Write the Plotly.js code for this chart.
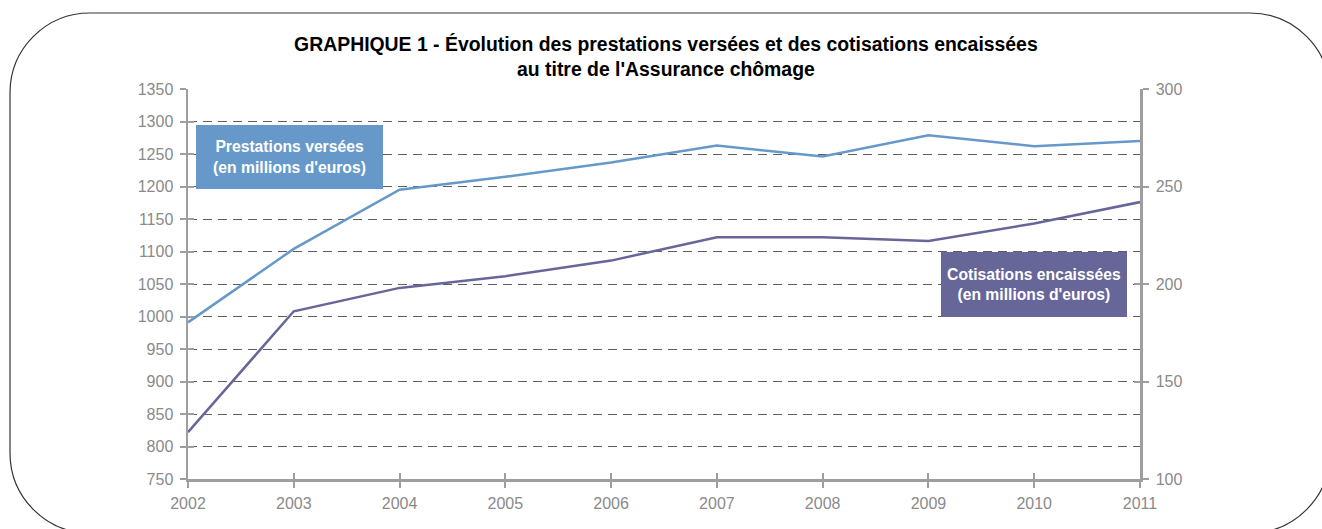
<!DOCTYPE html>
<html>
<head>
<meta charset="utf-8">
<script src="https://cdn.plot.ly/plotly-3.0.1.min.js"></script>
<style>html,body{margin:0;padding:0;background:#fff;}#chart{width:1322px;height:529px;}</style>
</head>
<body>
<div id="chart"></div>
<script>
// ---- data ----
const years = [2002, 2003, 2004, 2005, 2006, 2007, 2008, 2009, 2010, 2011];
const prestations = [991, 1104, 1195, 1215, 1237, 1263, 1246, 1279, 1262, 1270];   // left axis
const cotisations = [124, 186, 198, 204, 212, 224, 224, 222, 231, 242];            // right axis
const leftTicks = [750, 800, 850, 900, 950, 1000, 1050, 1100, 1150, 1200, 1250, 1300, 1350];
const rightTicks = [100, 150, 200, 250, 300];
const titleText = "GRAPHIQUE 1 - Évolution des prestations versées et des cotisations encaissées<br>au titre de l'Assurance chômage";
const labelPrest = "Prestations versées<br>(en millions d'euros)";
const labelCotis = "Cotisations encaissées<br>(en millions d'euros)";

// ---- geometry ----
const W = 1322, H = 529;
const mL = 188, mR = 182, mT = 89, mB = 50;
const pw = W - mL - mR, ph = H - mT - mB;
const px = v => (v - mL) / pw;
const py = v => (H - mB - v) / ph;

function roundRect(x0, y0, x1, y1, r) {
  const k = 0.5523 * r;
  const P = (x, y) => px(x).toFixed(5) + ',' + py(y).toFixed(5);
  return 'M' + P(x0 + r, y0) + ' L' + P(x1 - r, y0) +
    ' C' + P(x1 - r + k, y0) + ' ' + P(x1, y0 + r - k) + ' ' + P(x1, y0 + r) +
    ' L' + P(x1, y1 - r) +
    ' C' + P(x1, y1 - r + k) + ' ' + P(x1 - r + k, y1) + ' ' + P(x1 - r, y1) +
    ' L' + P(x0 + r, y1) +
    ' C' + P(x0 + r - k, y1) + ' ' + P(x0, y1 - r + k) + ' ' + P(x0, y1 - r) +
    ' L' + P(x0, y0 + r) +
    ' C' + P(x0, y0 + r - k) + ' ' + P(x0 + r - k, y0) + ' ' + P(x0 + r, y0) + ' Z';
}

const FONT = 'Liberation Sans, Arial, sans-serif';
const gray = '#8a8a8a';
const axisCol = '#9e9e9e';
const blue = '#6699c9';
const purple = '#666699';

const traces = [
  {x: years, y: prestations, type: 'scatter', mode: 'lines', line: {color: blue, width: 2.5}, xaxis: 'x', yaxis: 'y', hoverinfo: 'x+y'},
  {x: years, y: cotisations, type: 'scatter', mode: 'lines', line: {color: purple, width: 2.5}, xaxis: 'x', yaxis: 'y2', hoverinfo: 'x+y'}
];

const layout = {
  width: W, height: H,
  margin: {l: mL, r: mR, t: mT, b: mB},
  paper_bgcolor: 'rgba(0,0,0,0)', plot_bgcolor: 'rgba(0,0,0,0)',
  showlegend: false,
  font: {family: FONT, color: gray, size: 16},
  title: {text: titleText, font: {family: FONT, size: 19.4, color: '#000', weight: 'bold'},
          xref: 'paper', x: 0.502, xanchor: 'center', yref: 'container', y: (H - 51) / H, yanchor: 'middle'},
  xaxis: {range: [2002, 2011], tickvals: years, ticktext: years.map(String), showgrid: false, zeroline: false,
          showline: true, linecolor: axisCol, linewidth: 2.5, ticks: 'outside', ticklen: 6, tickwidth: 2, tickcolor: axisCol,
          ticklabelstandoff: 2, tickfont: {family: FONT, size: 16, color: gray}, fixedrange: true},
  xaxis2: {range: [2002, 2011], tickvals: years, overlaying: 'x', anchor: 'y', side: 'bottom', showgrid: false, zeroline: false,
           showline: false, ticks: 'inside', ticklen: 6, tickwidth: 2, tickcolor: axisCol, showticklabels: false, fixedrange: true},
  yaxis: {range: [750, 1350], tickvals: leftTicks, showgrid: true, gridcolor: '#5e5e5e', gridwidth: 1, griddash: '9px,6px',
          zeroline: false, showline: true, linecolor: axisCol, linewidth: 2.5, ticks: 'outside', ticklen: 6, tickwidth: 2,
          tickcolor: axisCol, ticklabelstandoff: 3, tickfont: {family: FONT, size: 16, color: gray}, fixedrange: true},
  yaxis2: {range: [100, 300], tickvals: rightTicks, overlaying: 'y', side: 'right', anchor: 'x', showgrid: false, zeroline: false,
           showline: true, linecolor: axisCol, linewidth: 2.5, ticks: 'outside', ticklen: 6, tickwidth: 2, tickcolor: axisCol,
           ticklabelstandoff: 4, tickfont: {family: FONT, size: 16, color: gray}, fixedrange: true},
  yaxis3: {range: [750, 1350], tickvals: leftTicks, overlaying: 'y', side: 'left', anchor: 'x', showgrid: false, zeroline: false,
           showline: false, ticks: 'inside', ticklen: 6, tickwidth: 2, tickcolor: axisCol, showticklabels: false, fixedrange: true},
  yaxis4: {range: [100, 300], tickvals: rightTicks, overlaying: 'y', side: 'right', anchor: 'x', showgrid: false, zeroline: false,
           showline: false, ticks: 'inside', ticklen: 6, tickwidth: 2, tickcolor: axisCol, showticklabels: false, fixedrange: true},
  shapes: [
    {type: 'path', xref: 'paper', yref: 'paper', path: roundRect(10, 13, 1330, 533, 80),
     line: {color: '#333333', width: 1.2}, fillcolor: 'rgba(0,0,0,0)', layer: 'below'}
  ],
  annotations: [
    {xref: 'paper', yref: 'paper', x: px(196), y: py(125), xanchor: 'left', yanchor: 'top',
     text: '<b>' + labelPrest + '</b>', showarrow: false, bgcolor: blue, width: 187, height: 64,
     borderpad: 0, borderwidth: 0, align: 'center', valign: 'middle',
     font: {family: FONT, size: 15.7, color: '#ffffff'}},
    {xref: 'paper', yref: 'paper', x: px(941), y: py(251.5), xanchor: 'left', yanchor: 'top',
     text: '<b>' + labelCotis + '</b>', showarrow: false, bgcolor: purple, width: 186, height: 65,
     borderpad: 0, borderwidth: 0, align: 'center', valign: 'middle',
     font: {family: FONT, size: 15.7, color: '#ffffff'}}
  ]
};

// dummy traces to activate the tick-only overlay axes
traces.push({x: [2002], y: [750], xaxis: 'x2', yaxis: 'y3', mode: 'markers', marker: {opacity: 0}, hoverinfo: 'skip', showlegend: false});
traces.push({x: [2002], y: [100], xaxis: 'x', yaxis: 'y4', mode: 'markers', marker: {opacity: 0}, hoverinfo: 'skip', showlegend: false});

Plotly.newPlot('chart', traces, layout, {displayModeBar: false, staticPlot: true});
</script>
</body>
</html>
